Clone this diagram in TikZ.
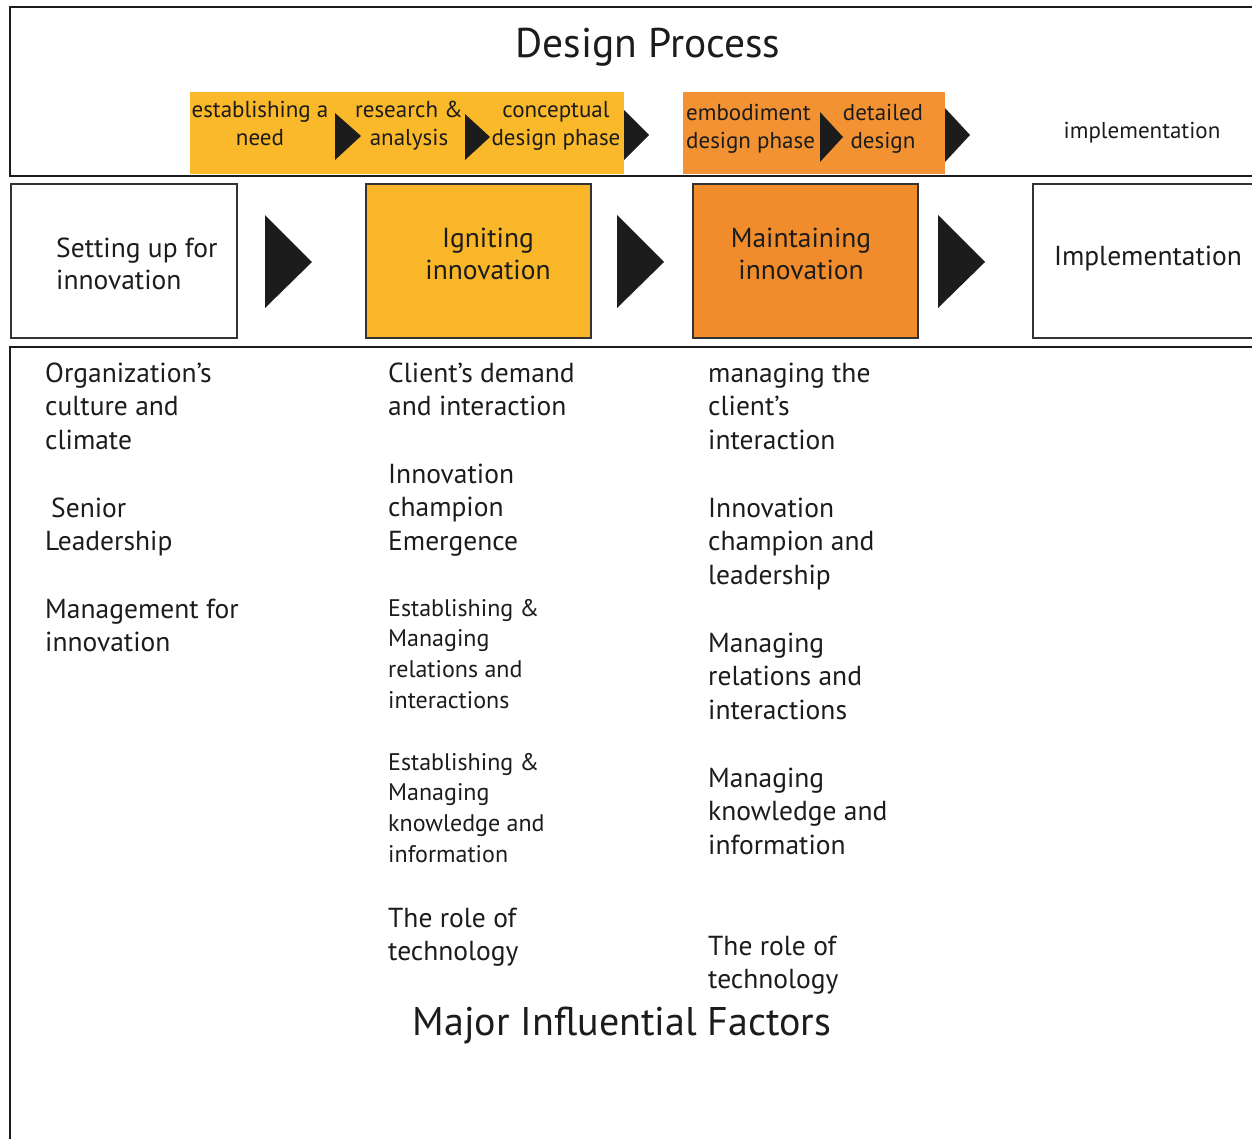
\documentclass[tikz,border=0pt]{standalone}
\usepackage{fontspec}
\setmainfont{PT Sans}
\newcommand\lblk[1]{\begin{tabular}[t]{@{}l@{}}#1\end{tabular}}
\newcommand\cblk[1]{\begin{tabular}[t]{@{}c@{}}#1\end{tabular}}
\definecolor{ystrip}{HTML}{FAB82B}
\definecolor{ostrip}{HTML}{F39232}
\definecolor{ybox}{HTML}{F9B628}
\definecolor{obox}{HTML}{F08C2C}
\definecolor{ink}{HTML}{1C1C1C}
\begin{document}
\begin{tikzpicture}[x=1pt,y=-1pt,
  frame/.style={line width=2.5pt, draw=ink},
  boxline/.style={line width=2pt, draw=black!80, anchor=north west, inner sep=0},
  tri/.style={fill=ink},
  txt/.style={inner sep=0, text=ink},
  body/.style={txt, anchor=base west, font=\fontsize{27.5}{33.5}\selectfont},
  small/.style={txt, anchor=base west, font=\fontsize{24}{30.7}\selectfont},
  strip/.style={txt, anchor=base, font=\fontsize{23}{28}\selectfont},
  phase/.style={txt, anchor=base, font=\fontsize{27.5}{32}\selectfont},
  big/.style={txt, anchor=base, font=\fontsize{41.5}{46}\selectfont}]
\fill[white] (0,0) rectangle (1252,1138);
\useasboundingbox (0,0) rectangle (1252,1138);
% frames
\draw[frame] (1262,7) -- (10,7) -- (10,176) -- (1262,176);
\draw[frame] (1262,347) -- (10,347) -- (10,1150);
% design process strip
\fill[ystrip] (190,92) rectangle (624,174);
\fill[ostrip] (683,92) rectangle (945,174);
\node[big] (title) at (648,57) {Design Process};
\node[strip] (s1) at (260,117) {\cblk{establishing a\\need}};
\node[strip] (s2) at (409,117) {\cblk{research \&\\analysis}};
\node[strip] (s3) at (556,117) {\cblk{conceptual\\design phase}};
\node[strip, anchor=base west] (s4) at (686,120) {\lblk{embodiment\\design phase}};
\node[strip] (s5) at (883,120) {\cblk{detailed\\design}};
\node[strip] (s6) at (1142,138) {implementation};
\fill[tri] (335,113) -- (361,136) -- (335,160) -- cycle;
\fill[tri] (465,114) -- (490,137) -- (465,160) -- cycle;
\fill[tri] (624,110) -- (649,135) -- (624,160) -- cycle;
\fill[tri] (820,112) -- (843,137) -- (820,162) -- cycle;
\fill[tri] (945,108) -- (970,135) -- (945,162) -- cycle;
% phase boxes
\node[boxline, fill=white, minimum width=226, minimum height=154] (b1) at (10,183) {};
\node[boxline, fill=ybox, minimum width=225, minimum height=154] (b2) at (365,183) {};
\node[boxline, fill=obox, minimum width=225, minimum height=154] (b3) at (692,183) {};
\node[boxline, fill=white, minimum width=240, minimum height=154] (b4) at (1032,183) {};
\node[phase, anchor=base west] (t1) at (56,257) {\lblk{Setting up for\\innovation}};
\node[phase] (t2) at (488,247) {\cblk{Igniting\\innovation}};
\node[phase] (t3) at (801,247) {\cblk{Maintaining\\innovation}};
\node[phase] (t4) at (1148,265) {Implementation};
\fill[tri] (265,215) -- (312,262) -- (265,308) -- cycle;
\fill[tri] (617,215) -- (664,262) -- (617,308) -- cycle;
\fill[tri] (938,215) -- (985,262) -- (938,308) -- cycle;
% factors: left column
\node[body] (l1) at (45,382) {\lblk{Organization’s\\culture and\\climate}};
\node[body] (l2) at (51,517) {Senior};
\node[body] (l2b) at (45,550) {Leadership};
\node[body] (l3) at (45,618) {\lblk{Management for\\innovation}};
% middle column
\node[body] (m1) at (388,382) {\lblk{Client’s demand\\and interaction}};
\node[body] (m2) at (388,483) {\lblk{Innovation\\champion\\Emergence}};
\node[small] (m3) at (388,616) {\lblk{Establishing \&\\Managing\\relations and\\interactions}};
\node[small] (m4) at (388,770) {\lblk{Establishing \&\\Managing\\knowledge and\\information}};
\node[body] (m5) at (388,927) {\lblk{The role of\\technology}};
% right column
\node[body] (r1) at (708,382) {\lblk{managing the\\client’s\\interaction}};
\node[body] (r2) at (708,517) {\lblk{Innovation\\champion and\\leadership}};
\node[body] (r3) at (708,652) {\lblk{Managing\\relations and\\interactions}};
\node[body] (r4) at (708,787) {\lblk{Managing\\knowledge and\\information}};
\node[body] (r5) at (708,955) {\lblk{The role of\\technology}};
\node[big, font=\fontsize{40}{46}\selectfont] (major) at (622,1035) {Major Influential Factors};
\end{tikzpicture}
\end{document}
